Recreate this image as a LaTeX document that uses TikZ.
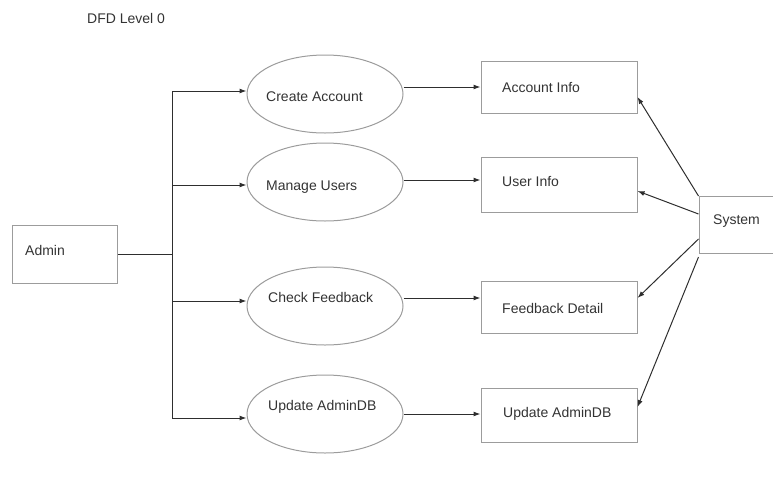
\documentclass[tikz,border=0pt]{standalone}
\usepackage{fontspec}
\setmainfont{Liberation Sans}
\usetikzlibrary{arrows.meta,shapes.geometric}
\definecolor{edgegrey}{HTML}{9C9C9C}
\definecolor{linedark}{HTML}{2E2E2E}
\definecolor{inkgrey}{HTML}{333333}

\begin{document}
\begin{tikzpicture}[x=1pt,y=-1pt,
  box/.style={draw=edgegrey, line width=1pt, rectangle, inner sep=0pt, minimum width=156pt},
  proc/.style={draw=edgegrey, line width=1pt, ellipse, minimum width=156pt, minimum height=78pt, inner sep=0pt},
  lbl/.style={font=\fontsize{14}{16}\selectfont, text=inkgrey, inner sep=0pt, anchor=base west},
  flow/.style={draw=linedark, line width=1pt, -{Latex[length=7pt,width=5pt]}},
  link/.style={draw=linedark, line width=1pt}]
\useasboundingbox (0,0) rectangle (773,485);

% title
\node[lbl] (title) at (87,23) {DFD Level 0};

% external entity on the left
\node[box, minimum width=105pt, minimum height=58pt] (admin) at (64.5,254) {};
\node[lbl] (adminT) at (25,255) {Admin};

% processes
\node[proc] (ca) at (325,94) {};
\node[proc] (mu) at (325,182) {};
\node[proc] (cf) at (325,306) {};
\node[proc] (ua) at (325,414) {};
\node[lbl] (caT) at (266,101) {Create Account};
\node[lbl] (muT) at (266,190) {Manage Users};
\node[lbl] (cfT) at (268,302) {Check Feedback};
\node[lbl] (uaT) at (268,410) {Update AdminDB};

% data stores
\node[box, minimum height=52pt] (ai) at (559,87) {};
\node[box, minimum height=55pt] (ui) at (559,184.5) {};
\node[box, minimum height=52pt] (fd) at (559,307) {};
\node[box, minimum height=54pt] (ud) at (559,415) {};
\node[lbl] (aiT) at (502,92) {Account Info};
\node[lbl] (uiT) at (502,186) {User Info};
\node[lbl] (fdT) at (502,313) {Feedback Detail};
\node[lbl] (udT) at (503,417) {Update AdminDB};

% external entity on the right
\node[box, minimum width=100pt, minimum height=57pt] (sys) at (749,224.5) {};
\node[lbl] (sysT) at (713,224) {System};

% branching bus from Admin
\coordinate (t1) at (172,91);
\coordinate (t2) at (172,185);
\coordinate (t3) at (172,301);
\coordinate (t4) at (172,418);
\draw[link] (admin.east) -- (admin.east -| t1);
\draw[link] (t1) -- (t4);
\draw[flow] (t1) -- (t1 -| ca.west);
\draw[flow] (t2) -- (t2 -| mu.west);
\draw[flow] (t3) -- (t3 -| cf.west);
\draw[flow] (t4) -- (t4 -| ua.west);

% process to store flows
\draw[flow] ([yshift=7pt]ca.east) -- ([yshift=7pt]ca.east -| ai.west);
\draw[flow] ([yshift=2pt]mu.east) -- ([yshift=2pt]mu.east -| ui.west);
\draw[flow] ([yshift=8pt]cf.east) -- ([yshift=8pt]cf.east -| fd.west);
\draw[flow] (ua.east) -- (ua.east -| ud.west);

% System to stores
\draw[flow] ([yshift=28.5pt]sys.west) -- ([yshift=-10pt]ai.east);
\draw[flow] ([yshift=10.5pt]sys.west) -- ([yshift=-6.5pt]ui.east);
\draw[flow] ([yshift=-14.5pt]sys.west) -- ([yshift=9pt]fd.east);
\draw[flow] ([yshift=-32.5pt]sys.west) -- ([yshift=8pt]ud.east);
\end{tikzpicture}
\end{document}
